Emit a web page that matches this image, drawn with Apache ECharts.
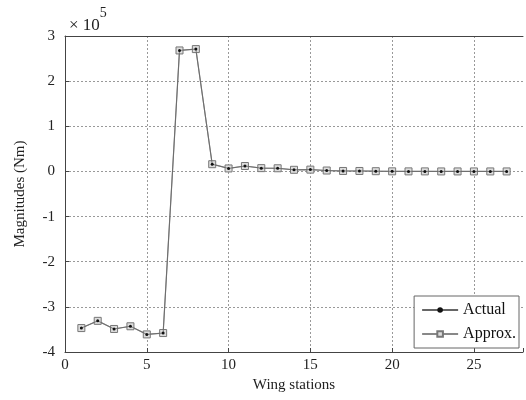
<!DOCTYPE html>
<html><head><meta charset="utf-8">
<script src="https://cdn.jsdelivr.net/npm/echarts@6/dist/echarts.min.js"></script>
<style>html,body{margin:0;padding:0;background:#fff}#c{width:526px;height:400px}</style>
</head><body><div id="c"></div>
<script>
const stations = [1,2,3,4,5,6,7,8,9,10,11,12,13,14,15,16,17,18,19,20,21,22,23,24,25,26,27];
const actual = [-347000,-331000,-349000,-343000,-361000,-358000,268000,271000,16000,6600,12000,7300,7000,3600,4000,2000,1000,1000,500,200,100,100,0,0,0,0,0];
const approx = [-347000,-331000,-349000,-343000,-361000,-358000,268000,271000,16000,6600,12000,7300,7000,3600,4000,2000,1000,1000,500,200,100,100,0,0,0,0,0];
const yTicks = [-4,-3,-2,-1,0,1,2,3];
const font = 'Liberation Serif';
const chart = echarts.init(document.getElementById('c'));
chart.setOption({
  animation:false,
  textStyle:{fontFamily:font},
  grid:{left:65,top:36,width:459,height:316,containLabel:false,show:false},
  title:{text:'{a|× 10}{s|5}',left:64,top:1,textStyle:{fontWeight:'normal',rich:{a:{fontFamily:font,fontSize:17,fontWeight:'normal',color:'#222',verticalAlign:'bottom',padding:[11,0,0,0]},s:{fontFamily:font,fontSize:14,fontWeight:'normal',color:'#222',verticalAlign:'top'}}}},
  legend:{
    right:7,top:296,orient:'vertical',
    backgroundColor:'#fff',borderColor:'#666',borderWidth:1,
    padding:[6,3,6,7],itemGap:8,itemWidth:36,itemHeight:7,
    textStyle:{fontFamily:font,fontSize:16,color:'#111'},
    data:['Actual','Approx.']
  },
  xAxis:[{
    type:'value',min:0,max:28,interval:5,
    name:'Wing stations',nameLocation:'middle',nameGap:22,
    nameTextStyle:{fontFamily:font,fontSize:15,color:'#222'},
    axisLine:{onZero:false,lineStyle:{color:'#444',width:1}},
    axisTick:{inside:true,length:4,lineStyle:{color:'#444'}},
    axisLabel:{fontFamily:font,fontSize:15,color:'#222',margin:6,formatter:v=>(v%5===0?String(v):'')},
    splitLine:{show:true,showMaxLine:false,lineStyle:{color:'#999',type:[2,2],width:1}}
  },{
    type:'value',min:0,max:28,interval:5,position:'top',
    axisLine:{onZero:false,lineStyle:{color:'#444',width:1}},
    axisTick:{show:false},axisLabel:{show:false},splitLine:{show:false}
  }],
  yAxis:{
    type:'value',min:-400000,max:300000,interval:100000,
    name:'Magnitudes (Nm)',nameLocation:'middle',nameGap:37,nameRotate:90,
    nameTextStyle:{fontFamily:font,fontSize:15,color:'#222'},
    axisLine:{show:true,onZero:false,lineStyle:{color:'#444',width:1}},
    axisTick:{show:true,inside:true,length:4,lineStyle:{color:'#444'}},
    axisLabel:{fontFamily:font,fontSize:15,color:'#222',margin:10,formatter:v=>{const t=Math.round(v/100000);return yTicks.includes(t)?String(t):'';}},
    splitLine:{show:true,lineStyle:{color:'#999',type:[2,2],width:1}}
  },
  series:[
    {name:'Approx.',type:'line',data:stations.map((s,i)=>[s,approx[i]]),
     symbol:'rect',symbolSize:7,showAllSymbol:true,
     itemStyle:{color:'#ddd',borderColor:'#777',borderWidth:1},
     lineStyle:{color:'#888',width:1.2},z:2},
    {name:'Actual',type:'line',data:stations.map((s,i)=>[s,actual[i]]),
     symbol:'circle',symbolSize:3,showAllSymbol:true,
     itemStyle:{color:'#111',borderWidth:0},
     lineStyle:{color:'#666',width:0.8},z:3}
  ]
});
</script></body></html>
